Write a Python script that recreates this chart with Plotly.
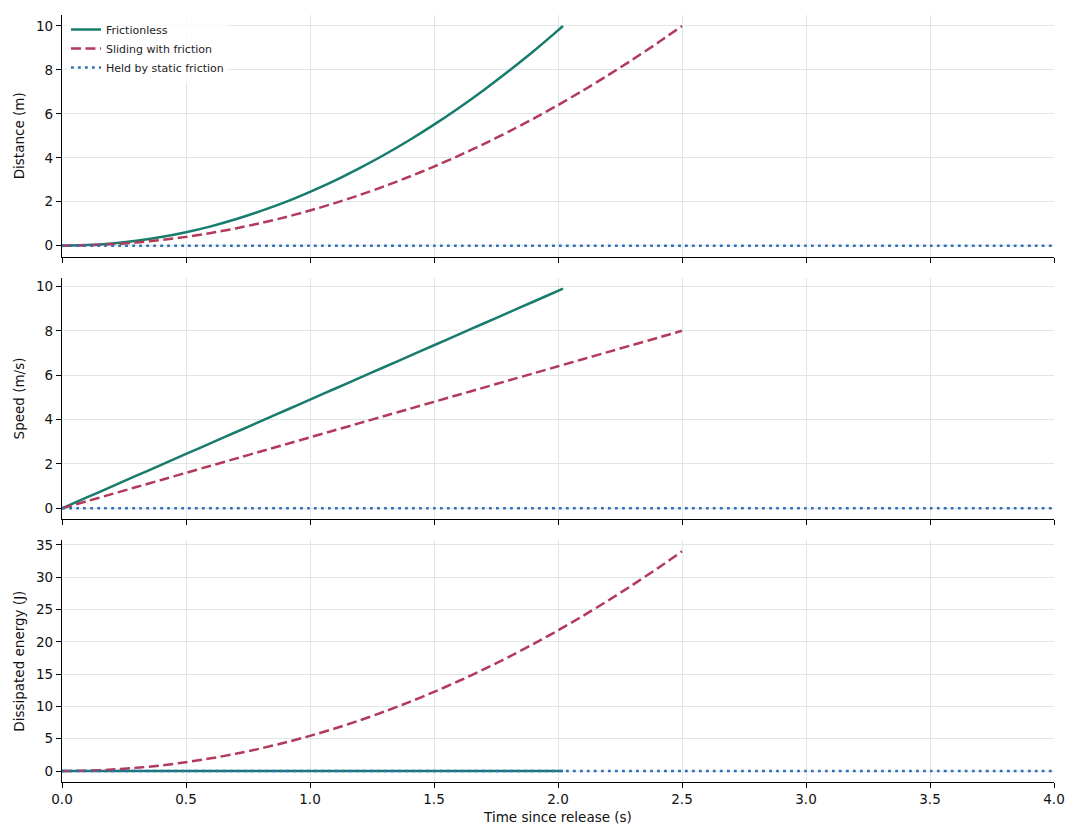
import plotly.graph_objects as go
from plotly.subplots import make_subplots

# --- data ---
t_free = [0.0, 0.1, 0.2, 0.3, 0.4, 0.5, 0.6, 0.7, 0.8, 0.9, 1.0, 1.1, 1.2, 1.3, 1.4,
          1.5, 1.6, 1.7, 1.8, 1.9, 2.0, 2.02]
dist_free = [0.0, 0.025, 0.098, 0.22, 0.39, 0.61, 0.88, 1.20, 1.57, 1.98, 2.45, 2.96,
             3.53, 4.14, 4.80, 5.51, 6.27, 7.08, 7.94, 8.84, 9.80, 10.0]
speed_free = [0.0, 0.49, 0.98, 1.47, 1.96, 2.45, 2.94, 3.43, 3.92, 4.41, 4.90, 5.39,
              5.88, 6.37, 6.86, 7.35, 7.84, 8.33, 8.82, 9.31, 9.80, 9.90]
energy_free = [0.0] * len(t_free)

t_slide = [0.0, 0.1, 0.2, 0.3, 0.4, 0.5, 0.6, 0.7, 0.8, 0.9, 1.0, 1.1, 1.2, 1.3, 1.4,
           1.5, 1.6, 1.7, 1.8, 1.9, 2.0, 2.1, 2.2, 2.3, 2.4, 2.5]
dist_slide = [0.0, 0.016, 0.064, 0.144, 0.256, 0.40, 0.576, 0.784, 1.024, 1.296, 1.60,
              1.936, 2.304, 2.704, 3.136, 3.60, 4.096, 4.624, 5.184, 5.776, 6.40,
              7.056, 7.744, 8.464, 9.216, 10.0]
speed_slide = [0.0, 0.32, 0.64, 0.96, 1.28, 1.60, 1.92, 2.24, 2.56, 2.88, 3.20, 3.52,
               3.84, 4.16, 4.48, 4.80, 5.12, 5.44, 5.76, 6.08, 6.40, 6.72, 7.04, 7.36,
               7.68, 8.00]
energy_slide = [0.0, 0.054, 0.218, 0.49, 0.87, 1.36, 1.96, 2.67, 3.48, 4.41, 5.44, 6.58,
                7.83, 9.19, 10.66, 12.24, 13.93, 15.72, 17.63, 19.64, 21.76, 23.99,
                26.33, 28.78, 31.33, 34.0]

t_held = [0.0, 0.5, 1.0, 1.5, 2.0, 2.5, 3.0, 3.5, 4.0]
dist_held = [0.0] * len(t_held)
speed_held = [0.0] * len(t_held)
energy_held = [0.0] * len(t_held)

x_ticks = [0.0, 0.5, 1.0, 1.5, 2.0, 2.5, 3.0, 3.5, 4.0]
x_ticklabels = ["0.0", "0.5", "1.0", "1.5", "2.0", "2.5", "3.0", "3.5", "4.0"]

C_FREE = "#177c6c"
C_SLIDE = "#b33a5a"
C_HELD = "#2f6fb6"
GRID = "#dfe6e6"
FONT = "DejaVu Sans"

fig = make_subplots(rows=3, cols=1, shared_xaxes=True, vertical_spacing=0.0274)

series = [
    ("Frictionless", t_free, [dist_free, speed_free, energy_free], C_FREE, "solid"),
    ("Sliding with friction", t_slide, [dist_slide, speed_slide, energy_slide], C_SLIDE, "10px,4.5px"),
    ("Held by static friction", t_held, [dist_held, speed_held, energy_held], C_HELD, "2.8px,4.2px"),
]
for name, tt, ys, color, dash in series:
    for r in range(3):
        fig.add_trace(go.Scatter(
            x=tt, y=ys[r], mode="lines", name=name, legendgroup=name,
            showlegend=(r == 0),
            line=dict(color=color, dash=dash, width=2.5, shape="spline", smoothing=0.6),
        ), row=r + 1, col=1)

ytitles = ["Distance (m)", "Speed (m/s)", "Dissipated energy (J)"]
yranges = [[-0.5, 10.5], [-0.495, 10.395], [-1.7, 35.7]]
ytickvals = [[0, 2, 4, 6, 8, 10], [0, 2, 4, 6, 8, 10], [0, 5, 10, 15, 20, 25, 30, 35]]
for r in range(3):
    fig.update_yaxes(
        title=dict(text=ytitles[r], font=dict(size=13.5, color="#111"), standoff=8),
        automargin=False,
        range=yranges[r], tickvals=ytickvals[r],
        showgrid=True, gridcolor=GRID, gridwidth=1, zeroline=False,
        showline=True, linecolor="black", linewidth=1.2,
        ticks="outside", ticklen=5, tickcolor="black", tickwidth=1,
        tickfont=dict(size=13.5, color="#111"),
        row=r + 1, col=1)
    fig.update_xaxes(
        range=[0, 4], tickvals=x_ticks, ticktext=x_ticklabels,
        automargin=False,
        showgrid=True, gridcolor=GRID, gridwidth=1, zeroline=False,
        showline=True, linecolor="black", linewidth=1.2,
        ticks="outside", ticklen=5, tickcolor="black", tickwidth=1,
        tickfont=dict(size=13.5, color="#111"),
        row=r + 1, col=1)
fig.update_xaxes(title=dict(text="Time since release (s)", font=dict(size=13.5, color="#111"),
                            standoff=6), row=3, col=1)

# page body adds an 8px offset; margins compensate so the plot area lands where the reference's does
fig.update_layout(
    width=1080, height=840,
    margin=dict(l=54, r=34, t=7, b=66),
    paper_bgcolor="white", plot_bgcolor="white",
    font=dict(family=FONT, color="#111"),
    legend=dict(x=0.004, y=1.0, xanchor="left", yanchor="top",
                bgcolor="rgba(255,255,255,0.8)", font=dict(size=11, color="#222"),
                tracegroupgap=0, itemwidth=30),
)

fig.write_html("out.html")
